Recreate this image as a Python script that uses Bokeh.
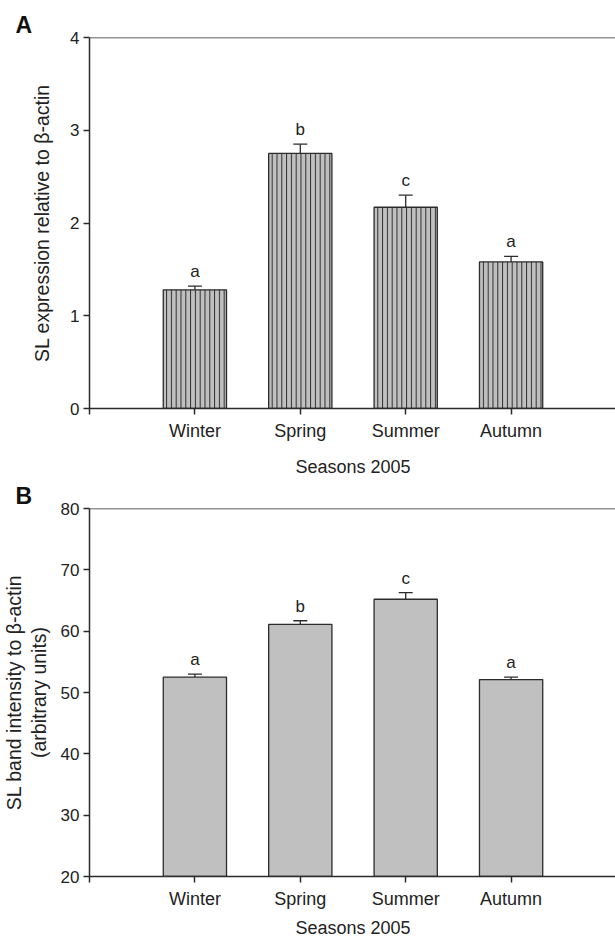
from bokeh.plotting import figure
from bokeh.models import (Range1d, FixedTicker, Whisker, ColumnDataSource, LabelSet,
                          Span, TeeHead)
from bokeh.core.properties import value
from bokeh.layouts import column
from bokeh.embed import file_html
from bokeh.resources import INLINE

# ---- data ----
seasons = ["Winter", "Spring", "Summer", "Autumn"]
positions = [1, 2, 3, 4]

a_mean = [1.28, 2.75, 2.17, 1.58]
a_err = [0.04, 0.10, 0.13, 0.06]
a_letters = ["a", "b", "c", "a"]
a_yticks = [0, 1, 2, 3, 4]
a_ylabel = "SL expression relative to β-actin"

b_mean = [52.5, 61.1, 65.2, 52.1]
b_err = [0.5, 0.6, 1.1, 0.4]
b_letters = ["a", "b", "c", "a"]
b_yticks = [20, 30, 40, 50, 60, 70, 80]
b_ylabel = "SL band intensity to β-actin\n(arbitrary units)"

x_title = "Seasons 2005"

FONT = "Liberation Sans"
DARK = "#2b2b2b"
FILL = "#c0c0c0"


def make_panel(tag, means, errs, letters, yticks, ylabel, fh, top, bottom, hatch,
               xtitle_standoff, ytitle_standoff):
    p = figure(frame_width=527, frame_height=fh, output_backend="svg", toolbar_location=None,
               x_range=Range1d(0, 5), y_range=Range1d(yticks[0], yticks[-1]),
               min_border_left=88, min_border_right=0, min_border_top=top,
               min_border_bottom=bottom)
    p.outline_line_color = None
    p.xgrid.visible = False
    p.ygrid.visible = False
    p.background_fill_color = "white"
    p.border_fill_color = "white"

    src = ColumnDataSource(dict(
        x=positions, mean=means,
        upper=[m + e for m, e in zip(means, errs)],
        letter=letters))

    kw = dict(x="x", top="mean", bottom=yticks[0], width=0.6, source=src,
              fill_color=FILL, line_color=DARK, line_width=1.3)
    if hatch:
        kw.update(hatch_pattern="|", hatch_scale=4.8, hatch_color="#2e2e2e",
                  hatch_weight=1.0)
    p.vbar(**kw)

    w = Whisker(source=src, base="x", lower="mean", upper="upper",
                dimension="height", line_color=DARK, line_width=1.3,
                upper_head=TeeHead(size=14, line_color=DARK, line_width=1.3),
                lower_head=None)
    p.add_layout(w)

    lbl = LabelSet(x="x", y="upper", text="letter", source=src, y_offset=5,
                   text_align="center", text_baseline="bottom",
                   text_font=value(FONT), text_font_size=value("17px"),
                   text_color="#222222")
    p.add_layout(lbl)

    p.add_layout(Span(location=yticks[-1], dimension="width", line_color=DARK,
                      line_width=1.5))

    # axes
    xa = p.xaxis[0]
    xa.ticker = FixedTicker(ticks=[0] + positions)
    ov = {0: ""}
    for pos, s in zip(positions, seasons):
        ov[pos] = s
    xa.major_label_overrides = ov
    xa.minor_tick_line_color = None
    xa.axis_label = x_title

    ya = p.yaxis[0]
    ya.ticker = FixedTicker(ticks=yticks)
    ya.minor_tick_line_color = None
    ya.axis_label = ylabel

    for ax in (xa, ya):
        ax.axis_line_color = DARK
        ax.axis_line_width = 1.5
        ax.major_tick_line_color = DARK
        ax.major_tick_line_width = 1.5
        ax.major_tick_in = 0
        ax.major_tick_out = 6
        ax.major_label_text_font = FONT
        ax.major_label_text_color = "#222222"
        ax.axis_label_text_font = FONT
        ax.axis_label_text_font_style = "normal"
        ax.axis_label_text_color = "#222222"
    xa.major_label_text_font_size = "18px"
    xa.axis_label_text_font_size = "18px"
    ya.major_label_text_font_size = "17px"
    ya.axis_label_text_font_size = "19.5px"
    ya.axis_label_text_line_height = 1.1
    xa.major_label_standoff = 6
    xa.axis_label_standoff = xtitle_standoff
    ya.major_label_standoff = 4
    ya.axis_label_standoff = ytitle_standoff

    p.title.text = tag
    p.title.align = "left"
    p.title.offset = -74
    p.title.standoff = 0
    p.title.text_font = FONT
    p.title.text_font_size = "23px"
    p.title.text_font_style = "bold"
    p.title.text_color = "#111111"
    return p


pA = make_panel("A", a_mean, a_err, a_letters, a_yticks, a_ylabel, 371, 37, 68, True, 13, 14)
pB = make_panel("B", b_mean, b_err, b_letters, b_yticks, b_ylabel, 368, 29, 64, False, 6, 8)

layout = column(pA, pB, spacing=0)
open("out.html", "w").write(file_html(layout, INLINE))
